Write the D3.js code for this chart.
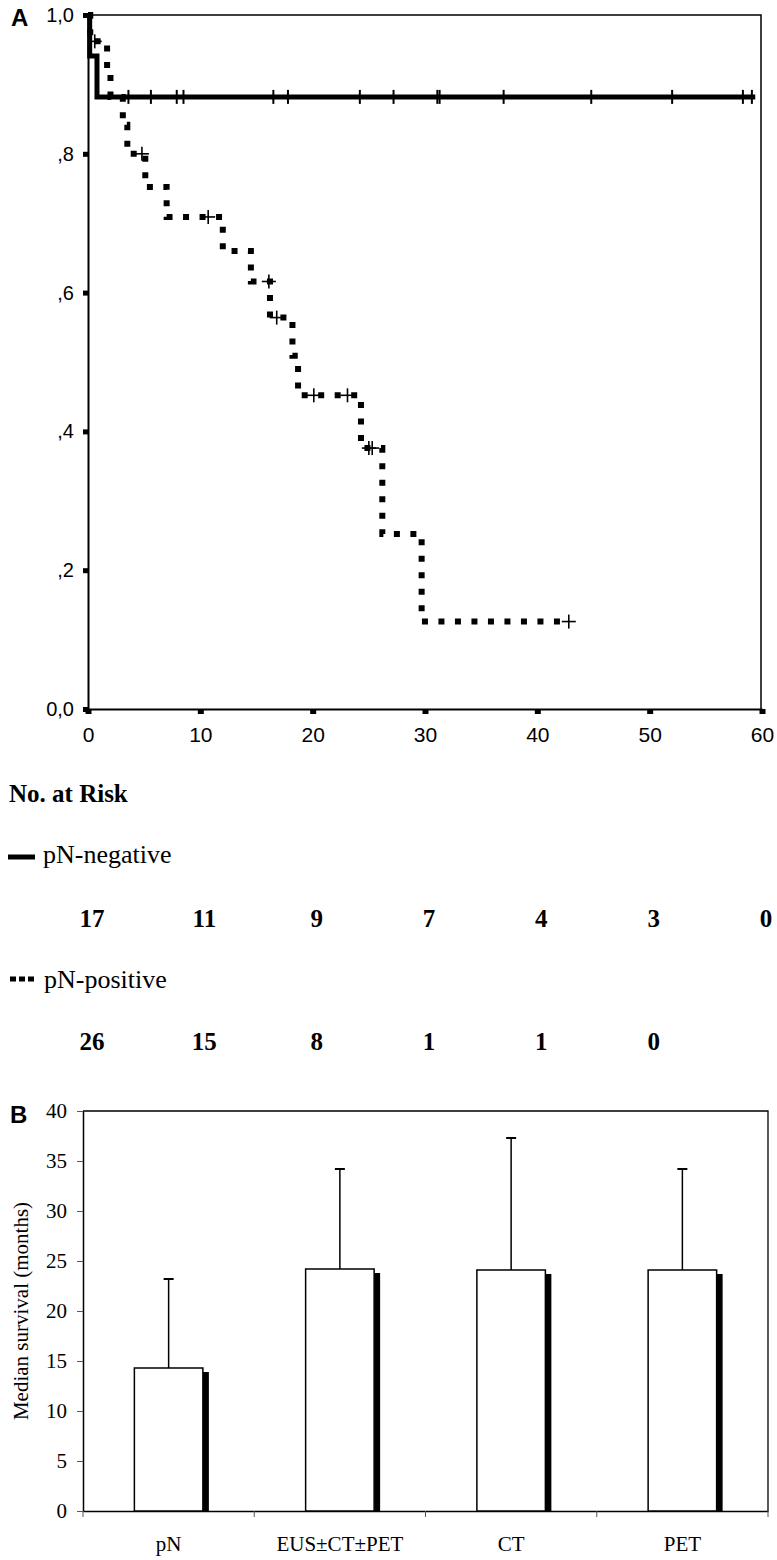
<!DOCTYPE html>
<html>
<head>
<meta charset="utf-8">
<script src="https://cdn.jsdelivr.net/npm/d3@7"></script>
<style>
  body { margin: 0; background: #fff; }
  svg { display: block; }
</style>
</head>
<body>
<script>
// Panel A: Kaplan-Meier steps
const negTimes = [0, 0.15, 0.8];
const negSurv = [1, 0.941, 0.882];
const negEnd = 59.4;
const negCensor = [3.6, 5.6, 7.9, 8.5, 16.5, 17.8, 24.2, 27.2, 31.1, 31.3, 37.0, 44.8, 52.0, 58.3, 59.1];

const posTimes = [0, 0.2, 1.7, 2.0, 3.1, 3.5, 5.1, 7.0, 12.0, 14.5, 16.2, 18.2, 18.7, 24.3, 26.2, 29.7];
const posSurv = [1, 0.962, 0.922, 0.882, 0.842, 0.800, 0.752, 0.709, 0.660, 0.616, 0.564, 0.509, 0.452, 0.376, 0.252, 0.126];
const posEnd = 42.6;
const posCensor = [0.6, 4.8, 10.7, 16.1, 16.8, 20.1, 23.1, 25.0, 25.3, 42.8];

const kmXTicks = [0, 10, 20, 30, 40, 50, 60];
const kmYTicks = [0, 0.2, 0.4, 0.6, 0.8, 1];
const kmYLabels = ["0,0", ",2", ",4", ",6", ",8", "1,0"];

// No. at risk table
const riskTimes = [0, 10, 20, 30, 40, 50, 60];
const riskNeg = [17, 11, 9, 7, 4, 3, 0];
const riskPos = [26, 15, 8, 1, 1, 0];

// Panel B: median survival with upper error
const groups = ["pN", "EUS\u00b1CT\u00b1PET", "CT", "PET"];
const medians = [14.3, 24.2, 24.1, 24.1];
const upper = [23.2, 34.2, 37.3, 34.2];
const bTicks = [0, 5, 10, 15, 20, 25, 30, 35, 40];

const svg = d3.select("body").append("svg")
  .attr("width", 777)
  .attr("height", 1560);

svg.append("rect").attr("width", 777).attr("height", 1560).attr("fill", "#fff");

// ---------- Panel A ----------
const x = d3.scaleLinear().domain([0, 60]).range([88, 762]);
const y = d3.scaleLinear().domain([0, 1]).range([709, 15]);

// frame (top + right)
svg.append("path")
  .attr("d", `M${x(0)},${y(1)}H${x(60) - 1}V${y(0)}`)
  .attr("fill", "none").attr("stroke", "#000").attr("stroke-width", 1.5);

const yAxis = svg.append("g")
  .attr("transform", `translate(${x(0)},0)`)
  .call(d3.axisLeft(y).tickValues(kmYTicks).tickSize(5).tickPadding(9)
    .tickFormat((d, i) => kmYLabels[i]));
yAxis.select(".domain").attr("stroke-width", 2);
yAxis.selectAll(".tick line").attr("stroke-width", 5);
yAxis.selectAll("text").attr("font-family", "Liberation Sans, Arial, sans-serif")
  .attr("font-size", 20).attr("fill", "#000");

const xAxis = svg.append("g")
  .attr("transform", `translate(0,${y(0)})`)
  .call(d3.axisBottom(x).tickValues(kmXTicks).tickSize(5).tickPadding(13).tickSizeOuter(0));
xAxis.select(".domain").attr("stroke-width", 2);
xAxis.selectAll(".tick line").attr("stroke-width", 6);
xAxis.selectAll("text").attr("font-family", "Liberation Sans, Arial, sans-serif")
  .attr("font-size", 21).attr("fill", "#000");

svg.append("text").attr("x", 11).attr("y", 26).text("A")
  .attr("font-family", "Liberation Sans, Arial, sans-serif")
  .attr("font-weight", "bold").attr("font-size", 24);

const stepLine = d3.line().curve(d3.curveStepAfter)
  .x(d => x(d[0])).y(d => y(d[1]));

function stepPoints(times, surv, end) {
  const pts = times.map((t, i) => [t, surv[i]]);
  pts.push([end, surv[surv.length - 1]]);
  return pts;
}
function survAt(times, surv, t) {
  let s = surv[0];
  times.forEach((tt, i) => { if (tt <= t) s = surv[i]; });
  return s;
}

// pN-negative: thick solid
svg.append("path")
  .attr("d", stepLine(stepPoints(negTimes, negSurv, negEnd)))
  .attr("fill", "none").attr("stroke", "#000").attr("stroke-width", 5);

svg.append("g").selectAll("line").data(negCensor).join("line")
  .attr("x1", d => x(d)).attr("x2", d => x(d))
  .attr("y1", d => y(survAt(negTimes, negSurv, d)) - 7)
  .attr("y2", d => y(survAt(negTimes, negSurv, d)) + 7)
  .attr("stroke", "#000").attr("stroke-width", 2);

// pN-positive: square dots
svg.append("path")
  .attr("d", stepLine(stepPoints(posTimes, posSurv, posEnd)))
  .attr("fill", "none").attr("stroke", "#000").attr("stroke-width", 6)
  .attr("stroke-dasharray", "6,10.5");

const cross = svg.append("g").selectAll("g").data(posCensor).join("g")
  .attr("transform", d => `translate(${x(d)},${y(survAt(posTimes, posSurv, d))})`);
cross.append("line").attr("x1", -7).attr("x2", 7)
  .attr("stroke", "#000").attr("stroke-width", 1.6);
cross.append("line").attr("y1", -7).attr("y2", 7)
  .attr("stroke", "#000").attr("stroke-width", 1.6);

// ---------- No. at risk ----------
const serif = "Liberation Serif, Times New Roman, serif";
svg.append("text").attr("x", 9).attr("y", 802).text("No. at Risk")
  .attr("font-family", serif).attr("font-weight", "bold").attr("font-size", 25);

svg.append("line").attr("x1", 8).attr("x2", 35).attr("y1", 857).attr("y2", 857)
  .attr("stroke", "#000").attr("stroke-width", 5);
svg.append("text").attr("x", 43).attr("y", 863).text("pN-negative")
  .attr("font-family", serif).attr("font-size", 26);

svg.append("line").attr("x1", 10).attr("x2", 35).attr("y1", 979).attr("y2", 979)
  .attr("stroke", "#000").attr("stroke-width", 5).attr("stroke-dasharray", "6,3");
svg.append("text").attr("x", 44).attr("y", 988).text("pN-positive")
  .attr("font-family", serif).attr("font-size", 26);

svg.append("g").selectAll("text").data(riskNeg).join("text")
  .attr("x", (d, i) => x(riskTimes[i]) + 4).attr("y", 927)
  .attr("text-anchor", "middle").text(d => d)
  .attr("font-family", serif).attr("font-weight", "bold").attr("font-size", 25);

svg.append("g").selectAll("text").data(riskPos).join("text")
  .attr("x", (d, i) => x(riskTimes[i]) + 4).attr("y", 1050)
  .attr("text-anchor", "middle").text(d => d)
  .attr("font-family", serif).attr("font-weight", "bold").attr("font-size", 25);

// ---------- Panel B ----------
const bx = d3.scaleBand().domain(groups).range([83, 768]).paddingInner(0.6).paddingOuter(0.3);
const by = d3.scaleLinear().domain([0, 40]).range([1511, 1111]);

svg.append("path")
  .attr("d", `M${bx.range()[0]},${by(40)}H${bx.range()[1]}V${by(0)}`)
  .attr("fill", "none").attr("stroke", "#000").attr("stroke-width", 1.3);

const byAxis = svg.append("g")
  .attr("transform", `translate(${bx.range()[0]},0)`)
  .call(d3.axisLeft(by).tickValues(bTicks).tickSize(6).tickPadding(10).tickSizeOuter(0));
byAxis.select(".domain").attr("stroke-width", 1.5);
byAxis.selectAll(".tick line").attr("stroke", "#555");
byAxis.selectAll("text").attr("font-family", serif).attr("font-size", 21).attr("fill", "#000");

const bxAxis = svg.append("g")
  .attr("transform", `translate(0,${by(0)})`)
  .call(d3.axisBottom(bx).tickSize(0).tickPadding(25).tickSizeOuter(0));
bxAxis.select(".domain").attr("stroke-width", 1.5);
bxAxis.selectAll("text").attr("font-family", serif).attr("font-size", 21).attr("fill", "#000");

// category boundary ticks
svg.append("g").selectAll("line").data(d3.range(groups.length + 1)).join("line")
  .attr("x1", i => bx.range()[0] + i * bx.step())
  .attr("x2", i => bx.range()[0] + i * bx.step())
  .attr("y1", by(0)).attr("y2", by(0) + 6)
  .attr("stroke", "#555").attr("stroke-width", 1);

svg.append("text").attr("x", 10).attr("y", 1123).text("B")
  .attr("font-family", "Liberation Sans, Arial, sans-serif")
  .attr("font-weight", "bold").attr("font-size", 24);

svg.append("text")
  .attr("transform", `translate(28,${(by(0) + by(40)) / 2}) rotate(-90)`)
  .attr("text-anchor", "middle").text("Median survival (months)")
  .attr("font-family", serif).attr("font-size", 21);

// error bars
const err = svg.append("g").selectAll("g").data(groups).join("g");
err.append("line")
  .attr("x1", d => bx(d) + bx.bandwidth() / 2).attr("x2", d => bx(d) + bx.bandwidth() / 2)
  .attr("y1", (d, i) => by(medians[i])).attr("y2", (d, i) => by(upper[i]))
  .attr("stroke", "#000").attr("stroke-width", 1.5);
err.append("line")
  .attr("x1", d => bx(d) + bx.bandwidth() / 2 - 5).attr("x2", d => bx(d) + bx.bandwidth() / 2 + 5)
  .attr("y1", (d, i) => by(upper[i])).attr("y2", (d, i) => by(upper[i]))
  .attr("stroke", "#000").attr("stroke-width", 2);

// shadows
svg.append("g").selectAll("rect").data(groups).join("rect")
  .attr("x", d => bx(d) + bx.bandwidth())
  .attr("width", 6)
  .attr("y", (d, i) => by(medians[i]) + 4)
  .attr("height", (d, i) => by(0) - by(medians[i]) - 4)
  .attr("fill", "#000");

// bars
svg.append("g").selectAll("rect").data(groups).join("rect")
  .attr("x", d => bx(d))
  .attr("width", bx.bandwidth())
  .attr("y", (d, i) => by(medians[i]))
  .attr("height", (d, i) => by(0) - by(medians[i]))
  .attr("fill", "#fff").attr("stroke", "#000").attr("stroke-width", 1.5);
</script>
</body>
</html>
